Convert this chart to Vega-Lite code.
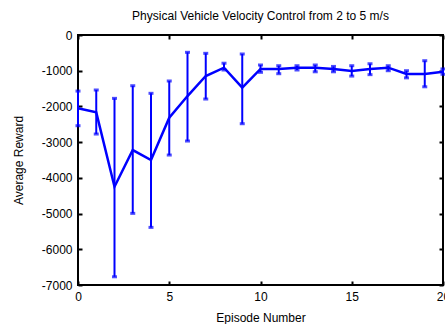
{
  "$schema": "https://vega.github.io/schema/vega-lite/v6.json",
  "width": 365,
  "height": 250,
  "autosize": {"type": "none"},
  "padding": {"left": 78, "top": 35, "right": 2, "bottom": 39},
  "title": {"text": "Physical Vehicle Velocity Control from 2 to 5 m/s", "font": "Liberation Sans", "fontSize": 12, "fontWeight": "normal", "color": "#000", "anchor": "middle", "offset": 6},
  "config": {
    "view": {"stroke": "#000", "strokeWidth": 2},
    "axis": {"grid": false, "domain": false, "tickColor": "#000", "tickWidth": 2, "tickSize": -4, "labelFlush": false, "labelFont": "Liberation Sans", "labelFontSize": 12, "labelColor": "#000", "titleFont": "Liberation Sans", "titleFontSize": 12, "titleFontWeight": "normal", "titleColor": "#000"}
  },
  "data": {"values": [
    {"ep": 0, "mean": -2050, "lo": -2540, "hi": -1570},
    {"ep": 1, "mean": -2166, "lo": -2773, "hi": -1540},
    {"ep": 2, "mean": -4249, "lo": -6770, "hi": -1774},
    {"ep": 3, "mean": -3221, "lo": -4994, "hi": -1420},
    {"ep": 4, "mean": -3501, "lo": -5387, "hi": -1633},
    {"ep": 5, "mean": -2316, "lo": -3361, "hi": -1288},
    {"ep": 6, "mean": -1709, "lo": -2969, "hi": -485},
    {"ep": 7, "mean": -1148, "lo": -1793, "hi": -513},
    {"ep": 8, "mean": -915, "lo": -980, "hi": -790},
    {"ep": 9, "mean": -1475, "lo": -2484, "hi": -532},
    {"ep": 10, "mean": -952, "lo": -1045, "hi": -840},
    {"ep": 11, "mean": -952, "lo": -1084, "hi": -860},
    {"ep": 12, "mean": -915, "lo": -980, "hi": -860},
    {"ep": 13, "mean": -915, "lo": -1030, "hi": -840},
    {"ep": 14, "mean": -952, "lo": -1030, "hi": -880},
    {"ep": 15, "mean": -1008, "lo": -1150, "hi": -860},
    {"ep": 16, "mean": -952, "lo": -1110, "hi": -805},
    {"ep": 17, "mean": -915, "lo": -1000, "hi": -860},
    {"ep": 18, "mean": -1092, "lo": -1200, "hi": -1000},
    {"ep": 19, "mean": -1092, "lo": -1450, "hi": -720},
    {"ep": 20, "mean": -1027, "lo": -1100, "hi": -950}
  ]},
  "layer": [
    {
      "mark": {"type": "rule", "color": "#0000ff", "strokeWidth": 2},
      "encoding": {
        "x": {"field": "ep", "type": "quantitative", "scale": {"domain": [0, 20], "nice": false}, "axis": {"values": [0, 5, 10, 15, 20], "title": "Episode Number", "labelPadding": 10, "titlePadding": 10}},
        "y": {"field": "lo", "type": "quantitative", "scale": {"domain": [-7000, 0], "nice": false}, "axis": {"values": [-7000, -6000, -5000, -4000, -3000, -2000, -1000, 0], "labelExpr": "datum.value == 0 ? '0' : '-' + abs(datum.value)", "title": "Average Reward", "labelPadding": 10, "titlePadding": 16}},
        "y2": {"field": "hi"}
      }
    },
    {
      "mark": {"type": "line", "color": "#0000ff", "strokeWidth": 2.5},
      "encoding": {
        "x": {"field": "ep", "type": "quantitative", "axis": {"orient": "top", "values": [0, 5, 10, 15, 20], "labels": false, "title": null}},
        "y": {"field": "mean", "type": "quantitative", "axis": {"orient": "right", "values": [-7000, -6000, -5000, -4000, -3000, -2000, -1000, 0], "labels": false, "title": null}}
      }
    },
    {
      "mark": {"type": "tick", "color": "#0000ff", "orient": "horizontal", "size": 5, "thickness": 3},
      "encoding": {
        "x": {"field": "ep", "type": "quantitative", "axis": null},
        "y": {"field": "lo", "type": "quantitative", "axis": null}
      }
    },
    {
      "mark": {"type": "tick", "color": "#0000ff", "orient": "horizontal", "size": 5, "thickness": 3},
      "encoding": {
        "x": {"field": "ep", "type": "quantitative", "axis": null},
        "y": {"field": "hi", "type": "quantitative", "axis": null}
      }
    }
  ],
  "resolve": {"axis": {"x": "independent", "y": "independent"}}
}
